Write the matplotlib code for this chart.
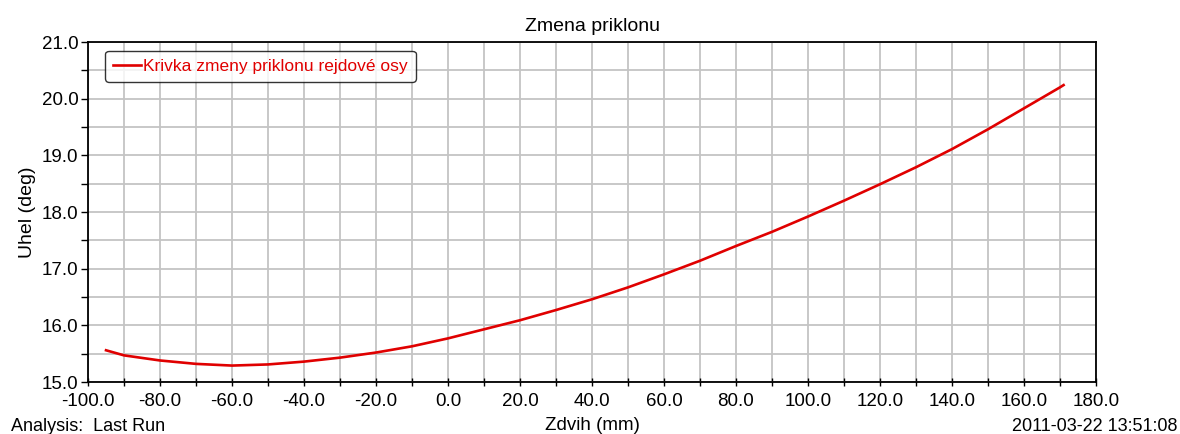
import matplotlib
matplotlib.use("Agg")
import matplotlib.pyplot as plt
from matplotlib.ticker import MultipleLocator, FormatStrFormatter

plt.rcParams['font.family'] = ['Liberation Sans', 'DejaVu Sans']
plt.rcParams['axes.unicode_minus'] = False

# values
zdvih = [-95, -90, -80, -70, -60, -50, -40, -30, -20, -10, 0, 10, 20, 30, 40,
         50, 60, 70, 80, 90, 100, 110, 120, 130, 140, 150, 160, 170, 171]
uhel = [15.56, 15.47, 15.38, 15.32, 15.29, 15.31, 15.36, 15.43, 15.52, 15.63,
        15.77, 15.93, 16.09, 16.27, 16.46, 16.67, 16.90, 17.14, 17.40, 17.65,
        17.92, 18.20, 18.49, 18.79, 19.11, 19.46, 19.83, 20.20, 20.24]

title = "Zmena priklonu"
series_name = "Krivka zmeny priklonu rejdové osy"
x_label = "Zdvih (mm)"
y_label = "Uhel (deg)"
footer_left = "Analysis:  Last Run"
footer_right = "2011-03-22 13:51:08"

fig = plt.figure(figsize=(11.8, 4.34), dpi=100)
ax = fig.add_axes([0.0746, 0.1198, 0.8542, 0.7834])

ax.plot(zdvih, uhel, color='#e00000', linewidth=1.9, label=series_name)

ax.set_xlim(-100, 180)
ax.set_ylim(15, 21)
ax.xaxis.set_major_locator(MultipleLocator(20))
ax.xaxis.set_minor_locator(MultipleLocator(10))
ax.yaxis.set_major_locator(MultipleLocator(1))
ax.yaxis.set_minor_locator(MultipleLocator(0.5))
ax.xaxis.set_major_formatter(FormatStrFormatter('%.1f'))
ax.yaxis.set_major_formatter(FormatStrFormatter('%.1f'))

ax.grid(True, which='both', color='#c4c4c4', linewidth=1.3)
ax.set_axisbelow(True)
for s in ax.spines.values():
    s.set_color('black')
    s.set_linewidth(1.3)

ax.tick_params(axis='x', which='both', direction='inout', length=6, width=1,
               labelsize=13.5, pad=5)
ax.tick_params(axis='y', which='both', direction='out', length=5, width=1,
               labelsize=13.5, pad=2)

ax.set_title(title, fontsize=14, pad=8)
ax.set_xlabel(x_label, fontsize=13.5, labelpad=5)
ax.set_ylabel(y_label, fontsize=14, labelpad=4)

leg = ax.legend(loc='upper left', fontsize=12.5, handlelength=1.6,
                handletextpad=0.15, borderpad=0.45, borderaxespad=0,
                fancybox=True, bbox_to_anchor=(0.017, 0.974))
leg.get_frame().set_edgecolor('black')
leg.get_frame().set_linewidth(1.0)
for t in leg.get_texts():
    t.set_color('#e00000')

fig.text(0.009, 0.008, footer_left, fontsize=13, ha='left', va='baseline')
fig.text(0.998, 0.008, footer_right, fontsize=13, ha='right', va='baseline')

fig.savefig("out.png", dpi=100)
